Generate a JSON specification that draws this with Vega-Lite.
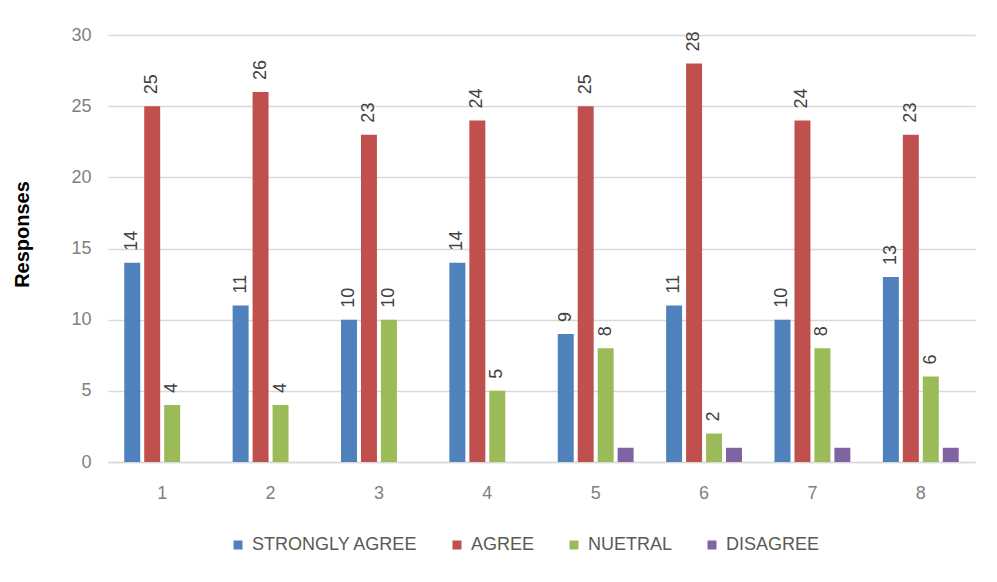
{
  "$schema": "https://vega.github.io/schema/vega-lite/v6.json",
  "width": 867,
  "height": 427,
  "autosize": {"type": "none"},
  "padding": {"left": 108, "top": 35, "right": 22, "bottom": 120},
  "background": "white",
  "config": {"view": {"stroke": null}, "font": "Liberation Sans"},
  "data": {
    "values": [
      {"q": "1", "series": "STRONGLY AGREE", "value": 14},
      {"q": "1", "series": "AGREE", "value": 25},
      {"q": "1", "series": "NUETRAL", "value": 4},
      {"q": "1", "series": "DISAGREE", "value": 0},
      {"q": "2", "series": "STRONGLY AGREE", "value": 11},
      {"q": "2", "series": "AGREE", "value": 26},
      {"q": "2", "series": "NUETRAL", "value": 4},
      {"q": "2", "series": "DISAGREE", "value": 0},
      {"q": "3", "series": "STRONGLY AGREE", "value": 10},
      {"q": "3", "series": "AGREE", "value": 23},
      {"q": "3", "series": "NUETRAL", "value": 10},
      {"q": "3", "series": "DISAGREE", "value": 0},
      {"q": "4", "series": "STRONGLY AGREE", "value": 14},
      {"q": "4", "series": "AGREE", "value": 24},
      {"q": "4", "series": "NUETRAL", "value": 5},
      {"q": "4", "series": "DISAGREE", "value": 0},
      {"q": "5", "series": "STRONGLY AGREE", "value": 9},
      {"q": "5", "series": "AGREE", "value": 25},
      {"q": "5", "series": "NUETRAL", "value": 8},
      {"q": "5", "series": "DISAGREE", "value": 1},
      {"q": "6", "series": "STRONGLY AGREE", "value": 11},
      {"q": "6", "series": "AGREE", "value": 28},
      {"q": "6", "series": "NUETRAL", "value": 2},
      {"q": "6", "series": "DISAGREE", "value": 1},
      {"q": "7", "series": "STRONGLY AGREE", "value": 10},
      {"q": "7", "series": "AGREE", "value": 24},
      {"q": "7", "series": "NUETRAL", "value": 8},
      {"q": "7", "series": "DISAGREE", "value": 1},
      {"q": "8", "series": "STRONGLY AGREE", "value": 13},
      {"q": "8", "series": "AGREE", "value": 23},
      {"q": "8", "series": "NUETRAL", "value": 6},
      {"q": "8", "series": "DISAGREE", "value": 1}
    ]
  },
  "encoding": {
    "x": {
      "field": "q",
      "type": "nominal",
      "sort": null,
      "scale": {"paddingInner": 0.3, "paddingOuter": 0.15},
      "axis": {
        "title": null,
        "labelAngle": 0,
        "labelColor": "#7f7f7f",
        "labelFontSize": 18,
        "labelPadding": 22,
        "ticks": false,
        "domain": true,
        "domainColor": "#d9d9d9",
        "domainWidth": 1.5
      }
    },
    "xOffset": {
      "field": "series",
      "type": "nominal",
      "sort": ["STRONGLY AGREE", "AGREE", "NUETRAL", "DISAGREE"],
      "scale": {"paddingInner": 0.2}
    },
    "y": {
      "field": "value",
      "type": "quantitative",
      "scale": {"domain": [0, 30], "nice": false},
      "axis": {
        "values": [0, 5, 10, 15, 20, 25, 30],
        "grid": true,
        "gridColor": "#d9d9d9",
        "gridWidth": 1.5,
        "domain": false,
        "ticks": false,
        "labelColor": "#7f7f7f",
        "labelFontSize": 18,
        "labelPadding": 17,
        "title": "Responses",
        "titleFontSize": 20,
        "titleFontWeight": "bold",
        "titleColor": "#000000",
        "titleAngle": -90,
        "titleX": -86,
        "titleY": 199,
        "titleAlign": "center",
        "titleBaseline": "middle"
      }
    }
  },
  "layer": [
    {
      "mark": {"type": "bar"},
      "encoding": {
        "color": {
          "field": "series",
          "type": "nominal",
          "sort": ["STRONGLY AGREE", "AGREE", "NUETRAL", "DISAGREE"],
          "scale": {
            "domain": ["STRONGLY AGREE", "AGREE", "NUETRAL", "DISAGREE"],
            "range": ["#4f81bd", "#c0504d", "#9bbb59", "#8064a2"]
          },
          "legend": {
            "title": null,
            "orient": "none",
            "direction": "horizontal",
            "legendX": 121,
            "legendY": 501,
            "padding": 0,
            "symbolType": "square",
            "symbolSize": 81,
            "symbolStrokeWidth": 0,
            "labelFontSize": 18,
            "labelColor": "#595959",
            "labelOffset": 5,
            "columnPadding": 30,
            "labelLimit": 0
          }
        }
      }
    },
    {
      "transform": [{"filter": "datum.series != 'DISAGREE' && datum.value > 0"}],
      "mark": {
        "type": "text",
        "angle": -90,
        "align": "left",
        "baseline": "middle",
        "dx": 12,
        "fontSize": 18,
        "color": "#404040"
      },
      "encoding": {"text": {"field": "value", "type": "quantitative"}}
    }
  ]
}
